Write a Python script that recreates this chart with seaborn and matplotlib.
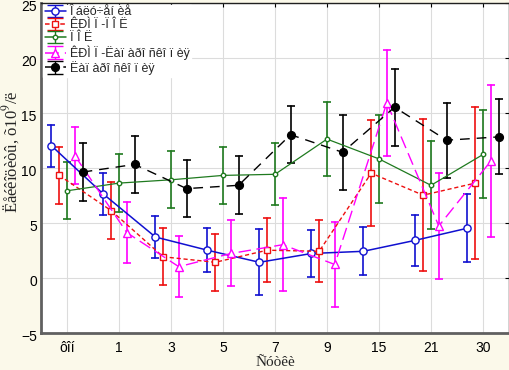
import numpy as np
import pandas as pd
import matplotlib
matplotlib.use("Agg")
import matplotlib.pyplot as plt
import matplotlib.transforms as mtrans
import seaborn as sns

# ─── Data ───
days = ["ôîí", "1", "3", "5", "7", "9", "15", "21", "30"]

labels = ["Î áëó÷åí èå", "ÊÐÌ Ï -Ï Î Ë", "Ï Î Ë",
          "ÊÐÌ Ï -Ëàï àðî ñêî ï èÿ", "Ëàï àðî ñêî ï èÿ"]

blue_mean = [12.0, 7.6, 3.7, 2.5, 1.4, 2.2, 2.4, 3.4, 4.5]
blue_err = [1.9, 1.9, 1.9, 2.0, 3.0, 2.1, 2.2, 2.3, 3.1]
red_mean = [9.3, 6.1, 1.9, 1.4, 2.5, 2.4, 9.5, 7.5, 8.6]
red_err = [2.6, 2.6, 2.6, 2.6, 2.9, 2.8, 4.8, 6.9, 6.9]
green_mean = [7.9, 8.6, 8.9, 9.3, 9.4, 12.6, 10.8, 8.4, 11.2]
green_err = [2.6, 2.6, 2.6, 2.6, 2.8, 3.4, 4.0, 4.0, 4.0]
mag_mean = [11.1, 4.1, 1.0, 2.2, 3.0, 1.2, 15.9, 4.7, 10.6]
mag_err = [2.6, 2.8, 2.8, 3.0, 4.2, 3.9, 4.8, 4.8, 6.9]
black_mean = [9.6, 10.3, 8.1, 8.4, 13.0, 11.4, 15.5, 12.5, 12.8]
black_err = [2.6, 2.6, 2.6, 2.65, 2.6, 3.4, 3.5, 3.4, 3.4]

means = [blue_mean, red_mean, green_mean, mag_mean, black_mean]
errs = [blue_err, red_err, green_err, mag_err, black_err]

# ─── Styles ───
colors = ["#1010d0", "#ee1010", "#1f7a1f", "#ff00ff", "#000000"]
offsets = [-0.3, -0.15, 0.0, 0.15, 0.3]
markers = ["o", "s", "o", "^", "o"]
msizes = [5.2, 5.0, 3.2, 5.2, 5.6]
faces = ["white", "white", "white", "white", "black"]
lstyles = ["-", (0, (3, 2)), "-", (0, (9, 4)), (0, (7, 5))]
lwidths = [1.1, 1.0, 0.9, 1.0, 1.0]

sns.set_style("whitegrid")
plt.rcParams["font.family"] = ["Liberation Sans", "DejaVu Sans"]
plt.rcParams["mathtext.fontset"] = "stix"

fig = plt.figure(figsize=(5.1, 3.7), dpi=100, facecolor="#fbf9ea")
ax = fig.add_axes([41 / 510, 1 - 332.7 / 370, 468 / 510, 330 / 370])
ax.set_facecolor("white")

x_base = np.arange(len(days))
for i in range(5):
    m = np.array(means[i])
    e = np.array(errs[i])
    xs = x_base + offsets[i]
    # two rows per point: low and high end of the whisker
    df = pd.DataFrame({"x": np.concatenate([xs, xs]),
                       "y": np.concatenate([m - e, m + e])})
    sns.lineplot(data=df, x="x", y="y", ax=ax, color=colors[i],
                 estimator="mean", errorbar=lambda v: (v.min(), v.max()),
                 err_style="bars",
                 err_kws={"capsize": 3, "elinewidth": 1.2, "capthick": 1.2},
                 linestyle=lstyles[i], linewidth=lwidths[i],
                 marker=markers[i], markersize=msizes[i],
                 markerfacecolor=faces[i], markeredgecolor=colors[i],
                 markeredgewidth=1.0, zorder=3 + i)

# legend proxies
handles = []
for i in range(5):
    h = ax.errorbar([np.nan], [np.nan], yerr=[1], color=colors[i],
                    linestyle=lstyles[i], linewidth=1.1, marker=markers[i],
                    markersize=msizes[i], markerfacecolor=faces[i],
                    markeredgecolor=colors[i], capsize=6, elinewidth=1.0)
    handles.append(h)
leg = ax.legend(handles, labels, loc="upper left", fontsize=9,
                labelspacing=0.08, handlelength=1.7, handletextpad=0.3,
                borderpad=0.15, borderaxespad=0.15, frameon=True,
                fancybox=False, framealpha=1, edgecolor="white")

ax.set_xlim(-0.5, 8.5)
ax.set_ylim(-5, 25)
ax.set_xticks(x_base)
ax.set_xticklabels(days)
ax.set_yticks(range(-5, 26, 5))
ax.tick_params(direction="in", length=3, top=True, right=True,
               labelsize=10, colors="black")
ax.tick_params(axis="x", pad=6)
ax.tick_params(axis="y", pad=3)
ax.grid(True, color="#dcdcdc", linewidth=0.8)

# y tick labels sit a little below their ticks, as in the original
shift = mtrans.ScaledTranslation(0, -3 / 100, fig.dpi_scale_trans)
for lbl in ax.get_yticklabels():
    lbl.set_transform(lbl.get_transform() + shift)

for side in ["top", "right"]:
    ax.spines[side].set_color("#202020")
    ax.spines[side].set_linewidth(1.0)
for side in ["left", "bottom"]:
    ax.spines[side].set_color("#606060")
    ax.spines[side].set_linewidth(2.0)

ax.set_xlabel("Ñóòêè", family="Liberation Serif", fontsize=11)
ax.set_ylabel("Ëåéêîöèòû, õ10$^9$/ë", family="Liberation Serif", fontsize=12)
ax.xaxis.set_label_coords(0.5, -0.072)
ax.yaxis.set_label_coords(-0.041, 0.55)

fig.savefig("out.png", dpi=100, facecolor=fig.get_facecolor())
